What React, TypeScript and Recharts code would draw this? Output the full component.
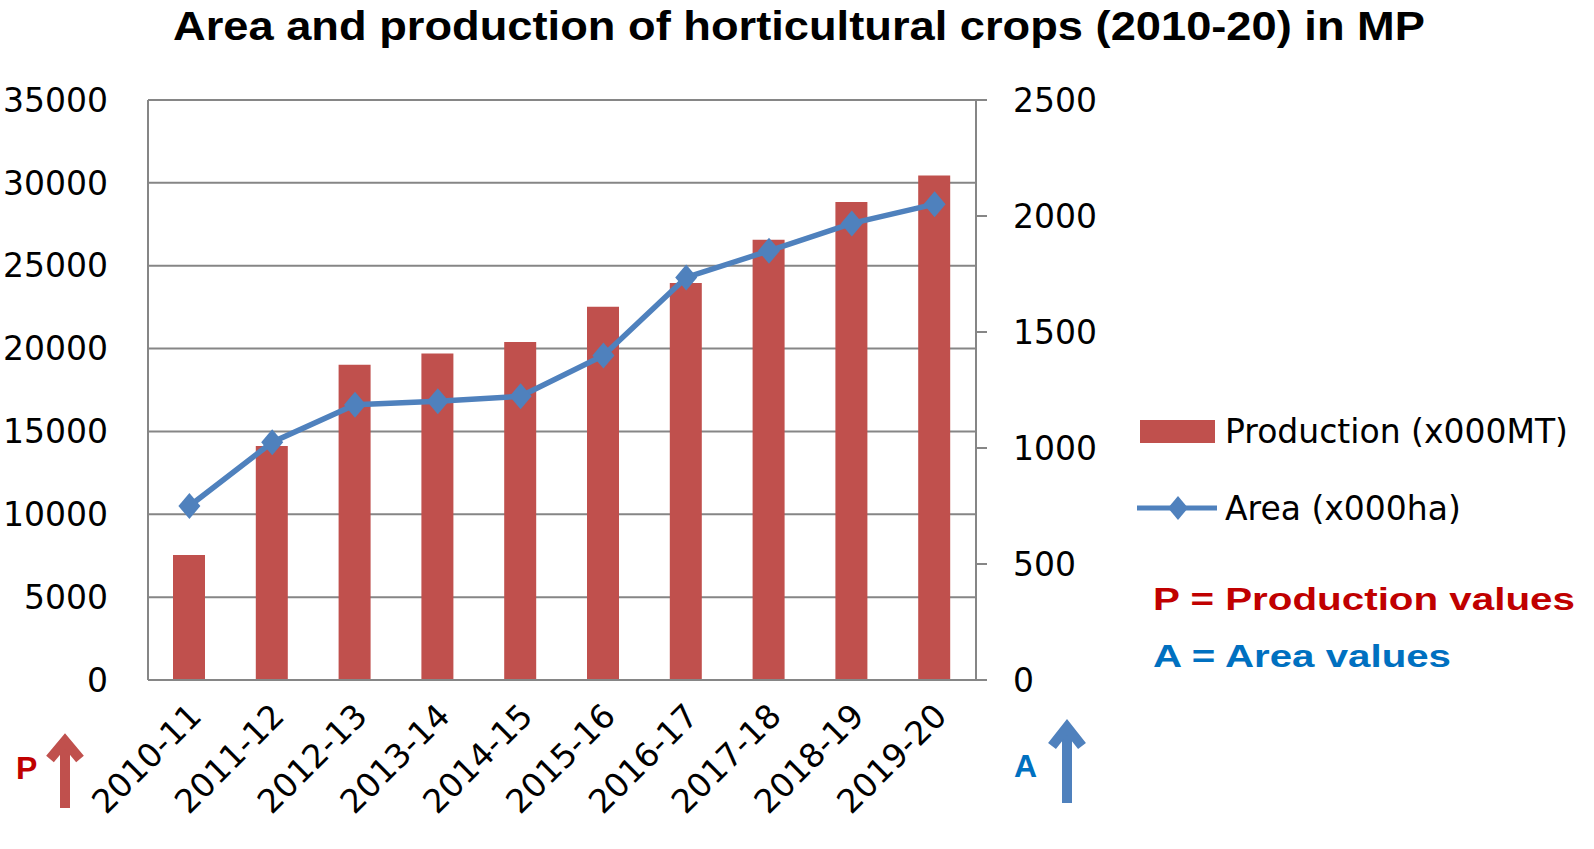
import { ComposedChart, Bar, Line, XAxis, YAxis, CartesianGrid, Legend } from "recharts";

const years = ["2010-11", "2011-12", "2012-13", "2013-14", "2014-15", "2015-16", "2016-17", "2017-18", "2018-19", "2019-20"];
const production = [7550, 14120, 19020, 19710, 20400, 22530, 23950, 26570, 28840, 30450];
const area = [750, 1025, 1186, 1201, 1223, 1399, 1735, 1850, 1968, 2051];
const prodTicks = [0, 5000, 10000, 15000, 20000, 25000, 30000, 35000];
const areaTicks = [0, 500, 1000, 1500, 2000, 2500];

const data = years.map((year, i) => ({ year, production: production[i], area: area[i] }));

const RED = "#C0504D";
const BLUE = "#4F81BD";
const GRID = "#868686";
const FONT = "DejaVu Sans";

function Diamond(props: any) {
  const { cx, cy } = props;
  if (cx == null || cy == null) return null;
  return <polygon points={`${cx},${cy - 13} ${cx + 11},${cy} ${cx},${cy + 13} ${cx - 11},${cy}`} fill={BLUE} />;
}

function YearTick(props: any) {
  const { x, y, payload } = props;
  return (
    <text
      transform={`translate(${x + 14},${y + 38}) rotate(-45)`}
      textAnchor="end"
      fontFamily={FONT}
      fontSize={33}
      fill="#000"
    >
      {payload.value}
    </text>
  );
}

function LegendBox(props: any) {
  const items = [...(props.payload || [])].sort((a: any, b: any) => (a.type === "rect" ? -1 : 1) - (b.type === "rect" ? -1 : 1));
  return (
    <div style={{ fontFamily: FONT, fontSize: 33, color: "#000" }}>
      {items.map((it: any) => (
        <div key={it.value} style={{ display: "flex", alignItems: "center", height: 46, marginBottom: 31 }}>
          <svg width={88} height={30} style={{ display: "block" }}>
            {it.type === "rect" ? (
              <rect x={3} y={4} width={75} height={23} fill={RED} />
            ) : (
              <g>
                <line x1={0} y1={15} x2={80} y2={15} stroke={BLUE} strokeWidth={5} />
                <polygon points="41,3 51,15 41,27 31,15" fill={BLUE} />
              </g>
            )}
          </svg>
          <span style={{ whiteSpace: "nowrap" }}>{it.value}</span>
        </div>
      ))}
    </div>
  );
}

export default function App() {
  return (
    <div style={{ position: "absolute", left: 0, top: 0, width: 1594, height: 849, background: "#fff" }}>
      <ComposedChart width={1594} height={849} data={data} margin={{ top: 100, right: 498, bottom: 9, left: 8 }}>
        <CartesianGrid yAxisId="p" vertical={false} stroke={GRID} strokeWidth={2} />
        <XAxis
          dataKey="year"
          interval={0}
          height={160}
          tickSize={0}
          tickMargin={0}
          tick={<YearTick />}
          axisLine={{ stroke: GRID, strokeWidth: 2 }}
          tickLine={false}
        />
        <YAxis
          yAxisId="p"
          width={140}
          domain={[0, 35000]}
          ticks={prodTicks}
          interval={0}
          tickLine={false}
          tickSize={6}
          tickMargin={34}
          axisLine={{ stroke: GRID, strokeWidth: 2 }}
          tick={{ fontFamily: FONT, fontSize: 33, fill: "#000" }}
        />
        <YAxis
          yAxisId="a"
          orientation="right"
          width={120}
          domain={[0, 2500]}
          ticks={areaTicks}
          interval={0}
          tickSize={11}
          tickMargin={26}
          tickLine={{ stroke: GRID, strokeWidth: 2 }}
          axisLine={{ stroke: GRID, strokeWidth: 2 }}
          tick={{ fontFamily: FONT, fontSize: 33, fill: "#000", textAnchor: "start" }}
        />
        <Legend
          layout="vertical"
          align="center"
          verticalAlign="middle"
          content={<LegendBox />}
          wrapperStyle={{ position: "absolute", left: 1137, top: 408, width: 460 }}
        />
        <Bar yAxisId="p" dataKey="production" name="Production (x000MT)" fill={RED} barSize={32} isAnimationActive={false} legendType="rect" />
        <Line
          yAxisId="a"
          dataKey="area"
          name="Area (x000ha)"
          stroke={BLUE}
          strokeWidth={5.5}
          dot={<Diamond />}
          activeDot={false}
          legendType="line"
          isAnimationActive={false}
        />
      </ComposedChart>
      <svg width={1594} height={849} style={{ position: "absolute", left: 0, top: 0, pointerEvents: "none" }}>
        <text x={173} y={40} fontFamily="Liberation Sans" fontWeight="bold" fontSize={40} textLength={1252} lengthAdjust="spacingAndGlyphs" fill="#000">
          Area and production of horticultural crops (2010-20) in MP
        </text>
        <text x={1153} y={610} fontFamily="Liberation Sans" fontWeight="bold" fontSize={32} textLength={422} lengthAdjust="spacingAndGlyphs" fill="#C00000">
          P = Production values
        </text>
        <text x={1153} y={667} fontFamily="Liberation Sans" fontWeight="bold" fontSize={32} textLength={298} lengthAdjust="spacingAndGlyphs" fill="#0070C0">
          A = Area values
        </text>
        <text x={16} y={779} fontFamily="Liberation Sans" fontWeight="bold" fontSize={32} fill="#C00000">P</text>
        <text x={1014} y={777} fontFamily="Liberation Sans" fontWeight="bold" fontSize={32} fill="#0070C0">A</text>
        <g stroke={RED} strokeWidth={10} fill="none" strokeLinejoin="miter">
          <line x1={65} y1={808} x2={65} y2={742} />
          <polyline points="50,759 65,741 80,759" />
        </g>
        <g stroke={BLUE} strokeWidth={10} fill="none" strokeLinejoin="miter">
          <line x1={1067} y1={803} x2={1067} y2={728} />
          <polyline points="1052,746 1067,727 1082,746" />
        </g>
      </svg>
    </div>
  );
}
